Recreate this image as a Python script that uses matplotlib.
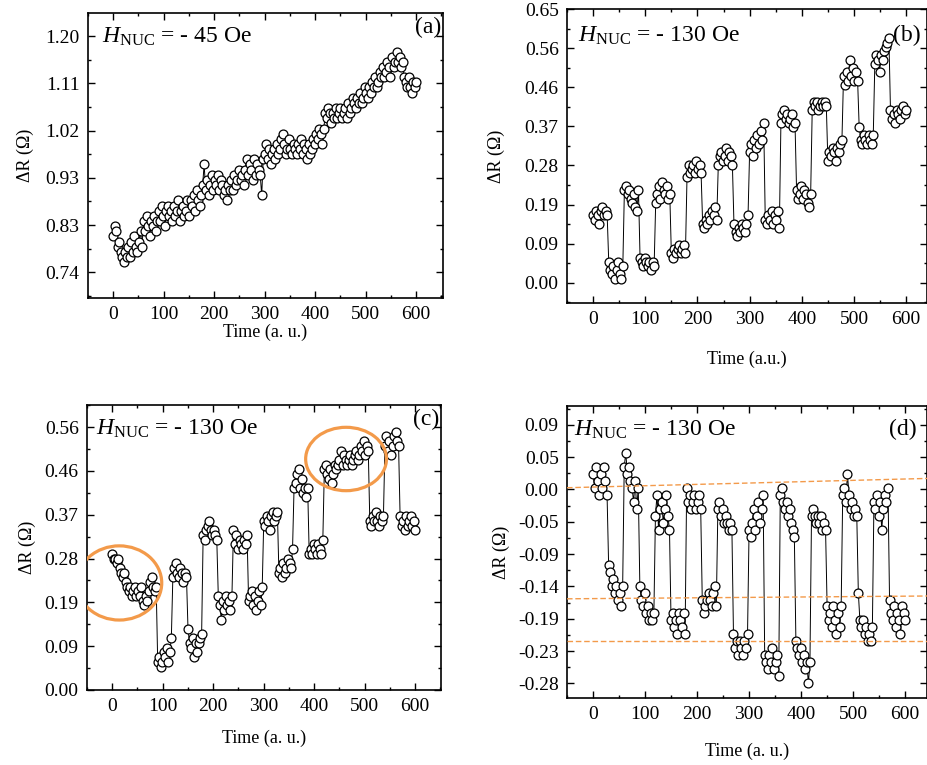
import numpy as np
import matplotlib
matplotlib.use("Agg")
import matplotlib.pyplot as plt
from matplotlib.patches import Ellipse
from matplotlib.ticker import MultipleLocator, FixedLocator, AutoMinorLocator

plt.rcParams['font.family'] = ['Liberation Serif', 'DejaVu Serif']
plt.rcParams['mathtext.fontset'] = 'custom'
plt.rcParams['mathtext.rm'] = 'Liberation Serif'
plt.rcParams['mathtext.it'] = 'Liberation Serif:italic'

# time grid (a.u.)
time = np.arange(0, 601, 3)

# panel (a) H_NUC = -45 Oe
dr_a = [
    0.81, 0.83, 0.82, 0.79, 0.80, 0.78, 0.77, 0.76, 0.78, 0.77,
    0.79, 0.77, 0.80, 0.78, 0.81, 0.79, 0.78, 0.80, 0.82, 0.79,
    0.84, 0.82, 0.85, 0.83, 0.81, 0.84, 0.83, 0.85, 0.82, 0.84,
    0.86, 0.84, 0.87, 0.85, 0.83, 0.86, 0.87, 0.85, 0.86, 0.84,
    0.87, 0.85, 0.86, 0.88, 0.84, 0.86, 0.87, 0.85, 0.86, 0.88,
    0.85, 0.88, 0.87, 0.89, 0.86, 0.90, 0.88, 0.87, 0.89, 0.91,
    0.95, 0.90, 0.92, 0.89, 0.91, 0.93, 0.90, 0.92, 0.91, 0.93,
    0.90, 0.92, 0.91, 0.89, 0.90, 0.88, 0.91, 0.90, 0.92, 0.90,
    0.93, 0.91, 0.92, 0.94, 0.92, 0.93, 0.91, 0.94, 0.96, 0.93,
    0.95, 0.94, 0.92, 0.96, 0.93, 0.95, 0.94, 0.93, 0.89, 0.96,
    0.97, 0.99, 0.96, 0.98, 0.95, 0.97, 0.98, 0.96, 0.99, 0.97,
    0.98, 1.00, 1.01, 0.99, 0.97, 0.98, 1.00, 0.98, 0.97, 0.99,
    0.98, 0.97, 0.99, 0.98, 1.00, 0.97, 0.99, 0.98, 0.96, 0.99,
    0.97, 0.98, 1.00, 0.99, 1.01, 1.00, 1.02, 1.01, 0.99, 1.02,
    1.05, 1.04, 1.06, 1.05, 1.03, 1.05, 1.04, 1.06, 1.04, 1.05,
    1.06, 1.04, 1.05, 1.06, 1.04, 1.07, 1.05, 1.06, 1.08, 1.07,
    1.06, 1.08, 1.07, 1.09, 1.07, 1.08, 1.10, 1.09, 1.08, 1.10,
    1.09, 1.11, 1.10, 1.12, 1.10, 1.11, 1.13, 1.12, 1.14, 1.12,
    1.13, 1.15, 1.14, 1.12, 1.16, 1.14, 1.15, 1.17, 1.15, 1.16,
    1.14, 1.15, 1.12, 1.11, 1.10, 1.12, 1.10, 1.09, 1.11, 1.10,
    1.11]

# panel (b) H_NUC = -130 Oe
dr_b = [
    0.16, 0.15, 0.17, 0.16, 0.14, 0.17, 0.18, 0.16, 0.17, 0.16,
    0.05, 0.03, 0.02, 0.04, 0.01, 0.03, 0.05, 0.02, 0.01, 0.04,
    0.22, 0.23, 0.21, 0.22, 0.20, 0.19, 0.21, 0.18, 0.17, 0.22,
    0.06, 0.05, 0.04, 0.06, 0.05, 0.04, 0.05, 0.03, 0.05, 0.04,
    0.19, 0.21, 0.23, 0.20, 0.24, 0.22, 0.21, 0.23, 0.20, 0.21,
    0.07, 0.06, 0.08, 0.07, 0.08, 0.09, 0.07, 0.08, 0.09, 0.07,
    0.25, 0.28, 0.26, 0.27, 0.28, 0.26, 0.29, 0.27, 0.28, 0.26,
    0.14, 0.13, 0.15, 0.14, 0.16, 0.15, 0.17, 0.16, 0.18, 0.15,
    0.28, 0.30, 0.31, 0.29, 0.30, 0.32, 0.29, 0.31, 0.30, 0.28,
    0.14, 0.12, 0.11, 0.13, 0.12, 0.14, 0.13, 0.12, 0.14, 0.16,
    0.31, 0.33, 0.30, 0.34, 0.32, 0.35, 0.33, 0.36, 0.34, 0.38,
    0.15, 0.14, 0.16, 0.15, 0.17, 0.14, 0.16, 0.15, 0.17, 0.13,
    0.38, 0.40, 0.41, 0.39, 0.40, 0.38, 0.39, 0.40, 0.37, 0.38,
    0.22, 0.20, 0.21, 0.23, 0.20, 0.22, 0.21, 0.19, 0.18, 0.21,
    0.41, 0.43, 0.42, 0.43, 0.41, 0.42, 0.43, 0.42, 0.43, 0.42,
    0.29, 0.31, 0.30, 0.32, 0.31, 0.29, 0.32, 0.31, 0.33, 0.34,
    0.49, 0.47, 0.50, 0.48, 0.53, 0.49, 0.51, 0.48, 0.50, 0.48,
    0.37, 0.34, 0.33, 0.35, 0.34, 0.33, 0.35, 0.34, 0.33, 0.35,
    0.52, 0.54, 0.53, 0.50, 0.54, 0.53, 0.55, 0.56, 0.57, 0.58,
    0.41, 0.39, 0.40, 0.38, 0.41, 0.40, 0.39, 0.41, 0.42, 0.40,
    0.41]

# panel (c) H_NUC = -130 Oe
dr_c = [
    0.29, 0.28, 0.28, 0.27, 0.28, 0.26, 0.25, 0.24, 0.25, 0.23,
    0.22, 0.21, 0.22, 0.20, 0.21, 0.22, 0.20, 0.21, 0.20, 0.22,
    0.19, 0.18, 0.20, 0.19, 0.21, 0.23, 0.24, 0.22, 0.21, 0.22,
    0.06, 0.07, 0.05, 0.06, 0.08, 0.07, 0.09, 0.06, 0.08, 0.11,
    0.24, 0.26, 0.27, 0.25, 0.24, 0.26, 0.25, 0.23, 0.25, 0.24,
    0.13, 0.10, 0.09, 0.11, 0.07, 0.10, 0.08, 0.10, 0.11, 0.12,
    0.33, 0.32, 0.34, 0.35, 0.36, 0.34, 0.33, 0.34, 0.33, 0.32,
    0.20, 0.18, 0.15, 0.19, 0.17, 0.20, 0.18, 0.19, 0.17, 0.20,
    0.34, 0.31, 0.33, 0.30, 0.32, 0.31, 0.30, 0.32, 0.31, 0.33,
    0.19, 0.20, 0.21, 0.18, 0.20, 0.17, 0.19, 0.21, 0.18, 0.22,
    0.36, 0.35, 0.37, 0.36, 0.34, 0.37, 0.38, 0.36, 0.37, 0.38,
    0.25, 0.26, 0.24, 0.27, 0.25, 0.26, 0.28, 0.27, 0.26, 0.30,
    0.43, 0.44, 0.46, 0.47, 0.43, 0.45, 0.42, 0.43, 0.41, 0.43,
    0.29, 0.30, 0.29, 0.31, 0.30, 0.29, 0.31, 0.30, 0.29, 0.32,
    0.47, 0.48, 0.46, 0.45, 0.47, 0.44, 0.46, 0.48, 0.47, 0.48,
    0.49, 0.51, 0.48, 0.50, 0.49, 0.48, 0.49, 0.50, 0.48, 0.49,
    0.50, 0.51, 0.49, 0.50, 0.52, 0.51, 0.53, 0.50, 0.52, 0.51,
    0.36, 0.35, 0.37, 0.36, 0.38, 0.36, 0.35, 0.37, 0.36, 0.37,
    0.52, 0.54, 0.51, 0.53, 0.50, 0.52, 0.54, 0.55, 0.53, 0.52,
    0.37, 0.35, 0.36, 0.34, 0.37, 0.35, 0.36, 0.37, 0.35, 0.36,
    0.34]

# panel (d) H_NUC = -130 Oe
dr_d = [
    0.02, 0.00, 0.03, 0.01, -0.01, 0.02, 0.00, 0.03, 0.01, -0.01,
    -0.11, -0.12, -0.14, -0.13, -0.15, -0.14, -0.16, -0.15, -0.17, -0.14,
    0.03, 0.05, 0.02, 0.03, 0.01, 0.00, -0.02, 0.01, -0.03, 0.00,
    -0.14, -0.16, -0.17, -0.15, -0.18, -0.17, -0.19, -0.18, -0.19, -0.18,
    -0.04, -0.01, -0.06, -0.03, -0.02, -0.05, -0.03, -0.01, -0.04, -0.06,
    -0.19, -0.18, -0.20, -0.19, -0.21, -0.18, -0.19, -0.20, -0.18, -0.21,
    0.00, -0.02, -0.01, -0.03, -0.02, -0.01, -0.03, -0.02, -0.01, -0.03,
    -0.16, -0.18, -0.17, -0.16, -0.15, -0.16, -0.17, -0.15, -0.14, -0.17,
    -0.03, -0.02, -0.04, -0.03, -0.05, -0.04, -0.05, -0.06, -0.05, -0.06,
    -0.21, -0.23, -0.22, -0.24, -0.22, -0.23, -0.24, -0.22, -0.23, -0.21,
    -0.06, -0.07, -0.05, -0.03, -0.06, -0.04, -0.02, -0.05, -0.03, -0.01,
    -0.24, -0.25, -0.26, -0.24, -0.25, -0.23, -0.26, -0.25, -0.24, -0.27,
    -0.01, 0.00, -0.02, -0.03, -0.02, -0.04, -0.03, -0.05, -0.06, -0.07,
    -0.22, -0.23, -0.24, -0.23, -0.25, -0.24, -0.26, -0.25, -0.28, -0.25,
    -0.04, -0.03, -0.04, -0.05, -0.04, -0.05, -0.04, -0.06, -0.05, -0.06,
    -0.17, -0.19, -0.18, -0.20, -0.17, -0.19, -0.21, -0.18, -0.20, -0.17,
    -0.01, 0.00, -0.02, 0.02, -0.01, -0.03, -0.02, -0.04, -0.03, -0.04,
    -0.15, -0.19, -0.20, -0.19, -0.21, -0.20, -0.22, -0.21, -0.22, -0.20,
    -0.02, -0.03, -0.01, -0.04, -0.02, -0.06, -0.03, -0.01, -0.02, 0.00,
    -0.16, -0.18, -0.19, -0.17, -0.20, -0.18, -0.19, -0.21, -0.17, -0.18,
    -0.19]

labels_a = ['0.74', '0.83', '0.93', '1.02', '1.11', '1.20']
labels_b = ['0.00', '0.09', '0.19', '0.28', '0.37', '0.46', '0.56', '0.65']
labels_c = ['0.00', '0.09', '0.19', '0.28', '0.37', '0.46', '0.56']
labels_d = ['-0.28', '-0.23', '-0.19', '-0.14', '-0.09', '-0.05', '0.00', '0.05', '0.09']

W, H = 928, 765
fig = plt.figure(figsize=(W / 100, H / 100), dpi=100)


def make_ax(l, r, t, b):
    return fig.add_axes([l / W, 1 - b / H, (r - l) / W, (b - t) / H])


ORANGE = '#F39A4A'


def style(ax, ylabels, ylo, yhi, xlim, ylim, xlabel, xlab_pad, ylab_pad):
    ax.set_xlim(*xlim)
    ax.set_ylim(*ylim)
    ax.xaxis.set_major_locator(FixedLocator([0, 100, 200, 300, 400, 500, 600]))
    ax.xaxis.set_minor_locator(MultipleLocator(50))
    pos = np.linspace(ylo, yhi, len(ylabels))
    ax.set_yticks(pos)
    ax.set_yticklabels(ylabels)
    ax.yaxis.set_minor_locator(AutoMinorLocator(2))
    ax.tick_params(which='both', direction='in', top=True, right=True,
                   labelsize=14, width=1.0)
    ax.tick_params(which='major', length=5, pad=6)
    ax.tick_params(which='minor', length=2.5)
    for s in ax.spines.values():
        s.set_linewidth(1.2)
    ax.set_xlabel(xlabel, fontsize=13, labelpad=xlab_pad)
    ax.set_ylabel('\u0394R (\u03a9)', fontsize=13, labelpad=ylab_pad)


def draw(ax, y):
    ax.plot(time, y, '-', color='black', lw=0.7, marker='o', ms=6.4,
            mfc='white', mec='black', mew=0.9, zorder=3)


# (a)
ax_a = make_ax(88, 443, 13, 298)
draw(ax_a, dr_a)
style(ax_a, labels_a, 0.74, 1.20, (-50, 653), (0.69, 1.245), 'Time (a. u.)', 0, 8)
ax_a.text(0.04, 0.955, r'$\mathit{H}_{\mathrm{NUC}}$ = - 45 Oe', transform=ax_a.transAxes,
          fontsize=17, va='top', ha='left')
ax_a.text(0.995, 0.985, '(a)', transform=ax_a.transAxes, fontsize=17, va='top', ha='right')

# (b)
ax_b = make_ax(567, 927, 9, 303)
draw(ax_b, dr_b)
style(ax_b, labels_b, 0.0, 0.65, (-50, 640), (-0.048, 0.65), 'Time (a.u.)', 16, 14)
ax_b.text(0.03, 0.945, r'$\mathit{H}_{\mathrm{NUC}}$ = - 130 Oe', transform=ax_b.transAxes,
          fontsize=17, va='top', ha='left')
ax_b.text(0.905, 0.945, '(b)', transform=ax_b.transAxes, fontsize=17, va='top', ha='left')

# (c)
ax_c = make_ax(87, 441, 405, 690)
draw(ax_c, dr_c)
style(ax_c, labels_c, 0.0, 0.56, (-50, 651), (0.0, 0.607), 'Time (a. u.)', 10, 6)
ax_c.text(0.025, 0.955, r'$\mathit{H}_{\mathrm{NUC}}$ = - 130 Oe', transform=ax_c.transAxes,
          fontsize=17, va='top', ha='left')
ax_c.text(0.995, 0.985, '(c)', transform=ax_c.transAxes, fontsize=17, va='top', ha='right')
ax_c.add_patch(Ellipse((14, 0.228), 168, 0.158, fill=False, ec=ORANGE, lw=2.3, zorder=4))
ax_c.add_patch(Ellipse((463, 0.492), 160, 0.135, fill=False, ec=ORANGE, lw=2.3, zorder=4))

# (d)
ax_d = make_ax(567, 927, 406, 698)
draw(ax_d, dr_d)
style(ax_d, labels_d, -0.28, 0.09, (-50, 642), (-0.301, 0.117), 'Time (a. u.)', 14, 6)
ax_d.text(0.02, 0.955, r'$\mathit{H}_{\mathrm{NUC}}$ = - 130 Oe', transform=ax_d.transAxes,
          fontsize=17, va='top', ha='left')
ax_d.text(0.895, 0.955, '(d)', transform=ax_d.transAxes, fontsize=17, va='top', ha='left')
guide_x = [-50, 642]
guide_top = [0.0, 0.0133]
guide_mid = [-0.159, -0.155]
guide_low = [-0.2195, -0.2195]
for g in (guide_top, guide_mid, guide_low):
    ax_d.plot(guide_x, g, ls=(0, (4, 2)), color=ORANGE, lw=1.0, zorder=5)

fig.savefig('out.png', dpi=100)
